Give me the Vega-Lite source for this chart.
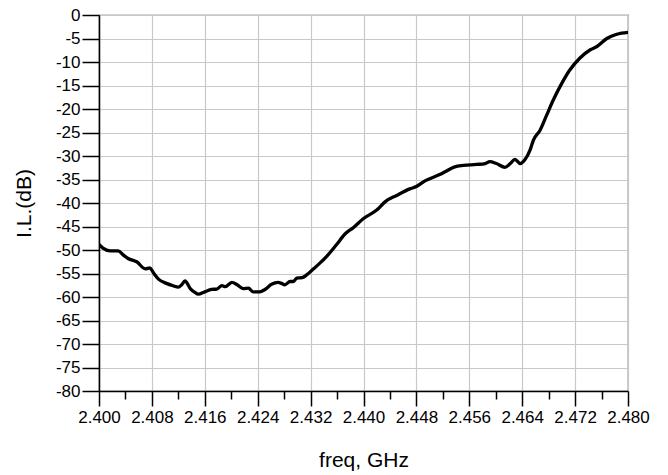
{
  "$schema": "https://vega.github.io/schema/vega-lite/v6.json",
  "width": 529,
  "height": 376,
  "autosize": {"type": "none"},
  "padding": {"left": 99, "top": 15, "right": 40, "bottom": 84},
  "background": "white",
  "config": {
    "font": "Liberation Sans",
    "view": {"stroke": "#555555", "strokeWidth": 1.2}
  },
  "data": {
    "values": [
      {"f": 2.4000, "il": -48.8},
      {"f": 2.4006, "il": -49.6},
      {"f": 2.4017, "il": -50.2},
      {"f": 2.4029, "il": -50.2},
      {"f": 2.4037, "il": -51.1},
      {"f": 2.4044, "il": -51.8},
      {"f": 2.4057, "il": -52.5},
      {"f": 2.4070, "il": -54.0},
      {"f": 2.4077, "il": -53.8},
      {"f": 2.4082, "il": -54.8},
      {"f": 2.4090, "il": -56.2},
      {"f": 2.4102, "il": -57.1},
      {"f": 2.4112, "il": -57.6},
      {"f": 2.4120, "il": -57.9},
      {"f": 2.4125, "il": -57.4},
      {"f": 2.4130, "il": -56.6},
      {"f": 2.4138, "il": -58.2},
      {"f": 2.4145, "il": -59.0},
      {"f": 2.4150, "il": -59.4},
      {"f": 2.4160, "il": -58.9},
      {"f": 2.4170, "il": -58.4},
      {"f": 2.4178, "il": -58.3},
      {"f": 2.4186, "il": -57.6},
      {"f": 2.4191, "il": -57.8},
      {"f": 2.4201, "il": -56.9},
      {"f": 2.4209, "il": -57.4},
      {"f": 2.4218, "il": -58.2},
      {"f": 2.4226, "il": -58.1},
      {"f": 2.4233, "il": -58.9},
      {"f": 2.4243, "il": -58.9},
      {"f": 2.4251, "il": -58.4},
      {"f": 2.4261, "il": -57.3},
      {"f": 2.4271, "il": -56.9},
      {"f": 2.4276, "il": -57.1},
      {"f": 2.4281, "il": -57.4},
      {"f": 2.4289, "il": -56.7},
      {"f": 2.4294, "il": -56.7},
      {"f": 2.4299, "il": -56.0},
      {"f": 2.4307, "il": -55.9},
      {"f": 2.4314, "il": -55.3},
      {"f": 2.4322, "il": -54.3},
      {"f": 2.4334, "il": -52.8},
      {"f": 2.4344, "il": -51.4},
      {"f": 2.4359, "il": -48.9},
      {"f": 2.4372, "il": -46.6},
      {"f": 2.4385, "il": -45.2},
      {"f": 2.4400, "il": -43.3},
      {"f": 2.4420, "il": -41.5},
      {"f": 2.4433, "il": -39.7},
      {"f": 2.4450, "il": -38.4},
      {"f": 2.4470, "il": -37.0},
      {"f": 2.4480, "il": -36.5},
      {"f": 2.4493, "il": -35.3},
      {"f": 2.4516, "il": -33.9},
      {"f": 2.4524, "il": -33.3},
      {"f": 2.4538, "il": -32.3},
      {"f": 2.4551, "il": -32.0},
      {"f": 2.4571, "il": -31.8},
      {"f": 2.4584, "il": -31.6},
      {"f": 2.4591, "il": -31.2},
      {"f": 2.4601, "il": -31.6},
      {"f": 2.4614, "il": -32.4},
      {"f": 2.4622, "il": -31.6},
      {"f": 2.4629, "il": -30.7},
      {"f": 2.4637, "il": -31.6},
      {"f": 2.4644, "il": -30.8},
      {"f": 2.4652, "il": -28.7},
      {"f": 2.4657, "il": -26.6},
      {"f": 2.4667, "il": -24.5},
      {"f": 2.4677, "il": -21.3},
      {"f": 2.4687, "il": -18.1},
      {"f": 2.4700, "il": -14.5},
      {"f": 2.4712, "il": -11.7},
      {"f": 2.4727, "il": -9.2},
      {"f": 2.4743, "il": -7.4},
      {"f": 2.4753, "il": -6.7},
      {"f": 2.4768, "il": -5.0},
      {"f": 2.4783, "il": -4.1},
      {"f": 2.4800, "il": -3.7}
    ]
  },
  "mark": {"type": "line", "color": "black", "strokeWidth": 3.3, "interpolate": "monotone", "clip": true},
  "encoding": {
    "x": {
      "field": "f",
      "type": "quantitative",
      "scale": {"domain": [2.4, 2.48], "nice": false, "zero": false},
      "axis": {
        "title": "freq, GHz",
        "titleFontSize": 21,
        "titleFontWeight": "normal",
        "titleColor": "black",
        "titlePadding": 24,
        "values": [2.400, 2.404, 2.408, 2.412, 2.416, 2.420, 2.424, 2.428, 2.432, 2.436, 2.440, 2.444, 2.448, 2.452, 2.456, 2.460, 2.464, 2.468, 2.472, 2.476, 2.480],
        "labelExpr": "round(datum.value*1000) % 8 == 0 ? format(datum.value, '.3f') : ''",
        "labelFontSize": 17,
        "labelColor": "black",
        "labelPadding": 3,
        "labelFlush": false,
        "labelOverlap": false,
        "domainColor": "black",
        "domainWidth": 1.5,
        "tickColor": "black",
        "tickWidth": 1.5,
        "tickSize": {"condition": {"test": "round(datum.value*1000) % 8 == 0", "value": 15}, "value": 8},
        "grid": true,
        "gridColor": "#c8c8c8",
        "gridWidth": 1.2,
        "gridOpacity": {"condition": {"test": "round(datum.value*1000) % 8 == 0", "value": 1}, "value": 0}
      }
    },
    "y": {
      "field": "il",
      "type": "quantitative",
      "scale": {"domain": [-80, 0], "nice": false},
      "axis": {
        "title": "I.L.(dB)",
        "titleFontSize": 21,
        "titleFontWeight": "normal",
        "titleColor": "black",
        "titlePadding": 21,
        "values": [0, -5, -10, -15, -20, -25, -30, -35, -40, -45, -50, -55, -60, -65, -70, -75, -80],
        "labelExpr": "toString(datum.value)",
        "labelFontSize": 17,
        "labelColor": "black",
        "labelPadding": 2,
        "labelFlush": false,
        "labelOverlap": false,
        "domainColor": "black",
        "domainWidth": 1.5,
        "tickColor": "black",
        "tickWidth": 1.5,
        "tickSize": 17,
        "grid": true,
        "gridColor": "#c8c8c8",
        "gridWidth": 1.2
      }
    }
  }
}
